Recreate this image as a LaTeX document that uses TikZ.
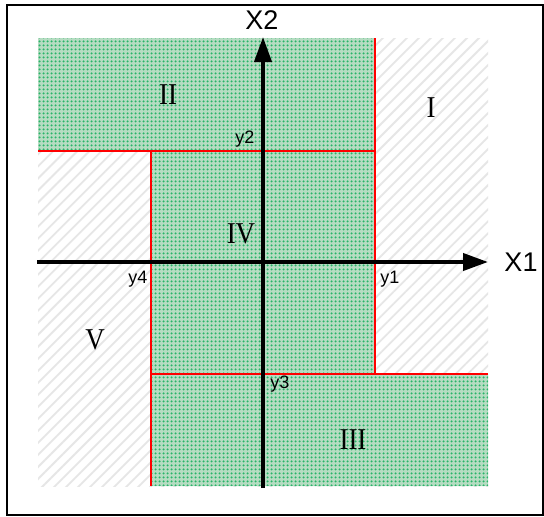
\documentclass[tikz,border=0pt]{standalone}
\usepackage{fontspec}
\setmainfont{Liberation Serif}
\setsansfont{Liberation Sans}
\usetikzlibrary{patterns.meta,arrows.meta}
\definecolor{greenbase}{RGB}{182,220,194}
\definecolor{greendot}{RGB}{40,180,105}
\definecolor{hatchgray}{RGB}{230,230,230}
\tikzset{
  frame/.style={draw=black, line width=2pt},
  hatched/.style={pattern={Lines[angle=45,distance=8.5pt,line width=1.8pt]}, pattern color=hatchgray},
  greenregion/.style={fill=greenbase, postaction={pattern={Dots[distance=4pt,radius=1.4pt]}, pattern color=greendot}},
  border/.style={draw=red, line width=1.5pt},
  axis/.style={draw=black, line width=4pt, -{Triangle[length=25pt,width=17pt]}},
  roman/.style={font=\rmfamily\fontsize{27}{27}\selectfont, inner sep=0pt},
  axlabel/.style={font=\sffamily\fontsize{27}{27}\selectfont, inner sep=0pt},
  ylabel/.style={font=\sffamily\fontsize{18}{18}\selectfont, inner sep=0pt}
}
\begin{document}
\begin{tikzpicture}[x=1pt,y=-1pt]
\useasboundingbox (0,0) rectangle (544,517);
\fill[white] (0,0) rectangle (544,517);
\draw[frame] (7,5) rectangle (543,515);
% hatched background
\fill[hatched] (38,38) rectangle (488,486);
% green region
\path[greenregion] (38,38) -- (375,38) -- (375,374) -- (488,374) -- (488,486) -- (151,486) -- (151,151) -- (38,151) -- cycle;
% red borders
\coordinate (a1) at (38,151);
\coordinate (a2) at (375,151);
\coordinate (b1) at (375,38);
\coordinate (b2) at (375,374);
\coordinate (c1) at (151,374);
\coordinate (c2) at (488,374);
\coordinate (d1) at (151,151);
\coordinate (d2) at (151,486);
\draw[border] (a1) -- (a2);
\draw[border] (b1) -- (b2);
\draw[border] (c1) -- (c2);
\draw[border] (d1) -- (d2);
% axes
\coordinate (xs) at (37,262);
\coordinate (xe) at (488,262);
\coordinate (ys) at (263,488);
\coordinate (ye) at (263,37);
\draw[axis] (xs) -- (xe);
\draw[axis] (ys) -- (ye);
% labels
\node[axlabel] (X1) at (521,262) {X1};
\node[axlabel] (X2) at (262,20) {X2};
\node[ylabel] (y1) at (390,279) {y1};
\node[ylabel] (y2) at (245,139) {y2};
\node[ylabel] (y3) at (280,384) {y3};
\node[ylabel] (y4) at (138,279) {y4};
\node[roman] (r1) at (431,108) {\scalebox{1}[1.12]{I}};
\node[roman] (r2) at (168,95) {\scalebox{1}[1.12]{II}};
\node[roman] (r3) at (353,440) {\scalebox{1}[1.12]{III}};
\node[roman] (r4) at (241,234) {\scalebox{1}[1.12]{IV}};
\node[roman] (r5) at (95,340) {\scalebox{1}[1.12]{V}};
\end{tikzpicture}
\end{document}
